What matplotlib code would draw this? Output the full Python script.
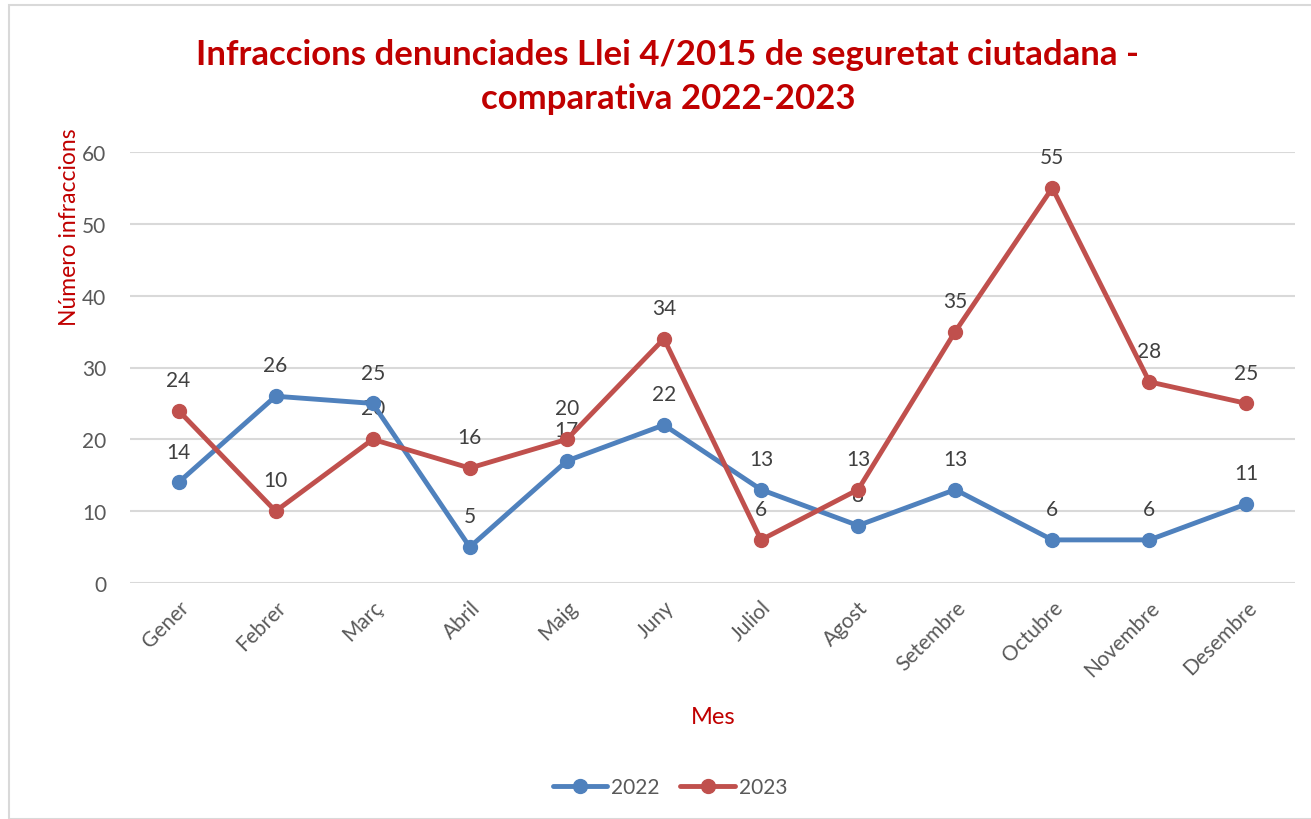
import matplotlib.pyplot as plt
from matplotlib.patches import Rectangle

# data
months = ['Gener', 'Febrer', 'Març', 'Abril', 'Maig', 'Juny', 'Juliol',
          'Agost', 'Setembre', 'Octubre', 'Novembre', 'Desembre']
vals_2022 = [14, 26, 25, 5, 17, 22, 13, 8, 13, 6, 6, 11]
vals_2023 = [24, 10, 20, 16, 20, 34, 6, 13, 35, 55, 28, 25]
yticks = [0, 10, 20, 30, 40, 50, 60]

BLUE = '#4F81BD'
RED = '#C0504D'
DARKRED = '#C00000'
GRAY = '#595959'

plt.rcParams['font.family'] = ['Lato', 'DejaVu Sans']

W, H = 1311, 820
fig = plt.figure(figsize=(W / 100, H / 100), dpi=100)

# chart border (Excel chart area)
fig.patches.append(Rectangle((9 / W, 0), 1.2, 1 - 6 / H, transform=fig.transFigure,
                             fill=False, edgecolor='#D9D9D9', linewidth=1.5))

ax = fig.add_axes([130 / W, 1 - 584 / H, (1295 - 130) / W, (584 - 153) / H])
x = list(range(len(months)))

ax.plot(x, vals_2022, color=BLUE, lw=3.5, marker='o', ms=10, label='2022',
        solid_capstyle='round', zorder=3)
ax.plot(x, vals_2023, color=RED, lw=3.5, marker='o', ms=10, label='2023',
        solid_capstyle='round', zorder=4)

for xi, v in zip(x, vals_2022):
    ax.annotate(str(v), (xi, v), xytext=(0, 15), textcoords='offset points',
                ha='center', va='bottom', fontsize=15, color='#404040', zorder=2)
for xi, v in zip(x, vals_2023):
    ax.annotate(str(v), (xi, v), xytext=(0, 15), textcoords='offset points',
                ha='center', va='bottom', fontsize=15, color='#404040', zorder=2)

ax.set_xlim(-0.5, len(months) - 0.5)
ax.set_ylim(0, 60)
ax.set_yticks(yticks)
ax.set_xticks(x)
ax.set_xticklabels(months, rotation=45, ha='right', va='top', rotation_mode='anchor')
ax.tick_params(axis='both', length=0, labelsize=15, labelcolor=GRAY)
ax.tick_params(axis='y', pad=17)
ax.tick_params(axis='x', pad=10)
ax.yaxis.grid(True, color='#D9D9D9', linewidth=1.5, zorder=0)
ax.set_axisbelow(True)
for s in ax.spines.values():
    s.set_visible(False)

fig.text(69 / W, 1 - 227 / H, 'Número infraccions', rotation=90, fontsize=16.5,
         color=DARKRED, ha='center', va='center')
fig.text(713 / W, 1 - 718 / H, 'Mes', fontsize=17, color=DARKRED,
         ha='center', va='center')

fig.text(668 / W, 1 - 55 / H, 'Infraccions denunciades Llei 4/2015 de seguretat ciutadana -',
         fontsize=25, fontweight='bold', color=DARKRED, ha='center', va='center')
fig.text(668 / W, 1 - 99 / H, 'comparativa 2022-2023',
         fontsize=25, fontweight='bold', color=DARKRED, ha='center', va='center')

leg = fig.legend(loc='center', bbox_to_anchor=(670 / W, 1 - 788 / H), ncol=2,
                 frameon=False, fontsize=15, handlelength=2.6, columnspacing=1.0,
                 handletextpad=0.2)
for t in leg.get_texts():
    t.set_color(GRAY)

fig.savefig('out.png', dpi=100)
